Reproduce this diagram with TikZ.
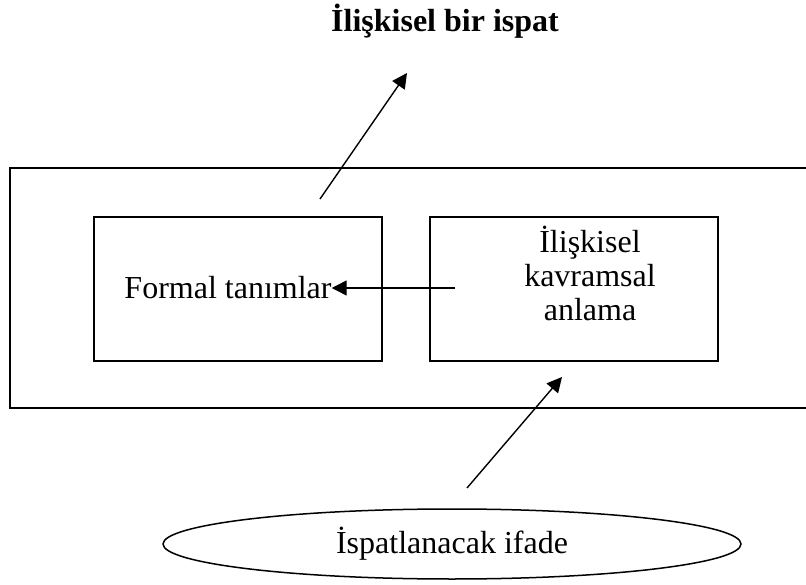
\documentclass[tikz,border=0pt]{standalone}
\usepackage{fontspec}
\setmainfont{Liberation Serif}
\usetikzlibrary{arrows.meta,shapes.geometric}
\begin{document}
\begin{tikzpicture}[x=1pt,y=-1pt,
  box/.style={draw, line width=1.5pt, minimum width=288pt, minimum height=144pt, inner sep=0pt},
  conn/.style={line width=1.4pt, -{Triangle[length=15pt,width=15pt]}},
  lbl/.style={font=\fontsize{32}{34}\selectfont, inner sep=0pt}]
\useasboundingbox (0,0) rectangle (806,585);
% outer frame (cut off at the right edge)
\draw[line width=1.7pt] (806,168) -- (10,168) -- (10,408) -- (806,408);
% boxes
\node[box] (left) at (238,289) {};
\node[box] (right) at (574,289) {};
% texts
\node[lbl, font=\fontsize{32}{34}\selectfont\bfseries, anchor=base] (title) at (445,32) {İlişkisel bir ispat};
\node[lbl, anchor=base] (formal) at (228,299) {Formal tanımlar};
\node[lbl, anchor=base, align=center] (rel) at (590,320) {İlişkisel\\kavramsal\\anlama};
\node[draw, ellipse, line width=1.5pt, minimum width=578pt, minimum height=70pt, inner sep=0pt,
      font=\fontsize{32}{34}\selectfont] (stmt) at (452,544) {İspatlanacak ifade};
% connectors
\coordinate (a1s) at (320,199);
\coordinate (a1e) at (407,73);
\draw[conn] (a1s) -- (a1e);
\coordinate (a2s) at (467,488);
\coordinate (a2e) at (562,377);
\draw[conn] (a2s) -- (a2e);
\coordinate (a3s) at (455,288);
\draw[conn] (a3s) -- (a3s -| formal.east);
\end{tikzpicture}
\end{document}
